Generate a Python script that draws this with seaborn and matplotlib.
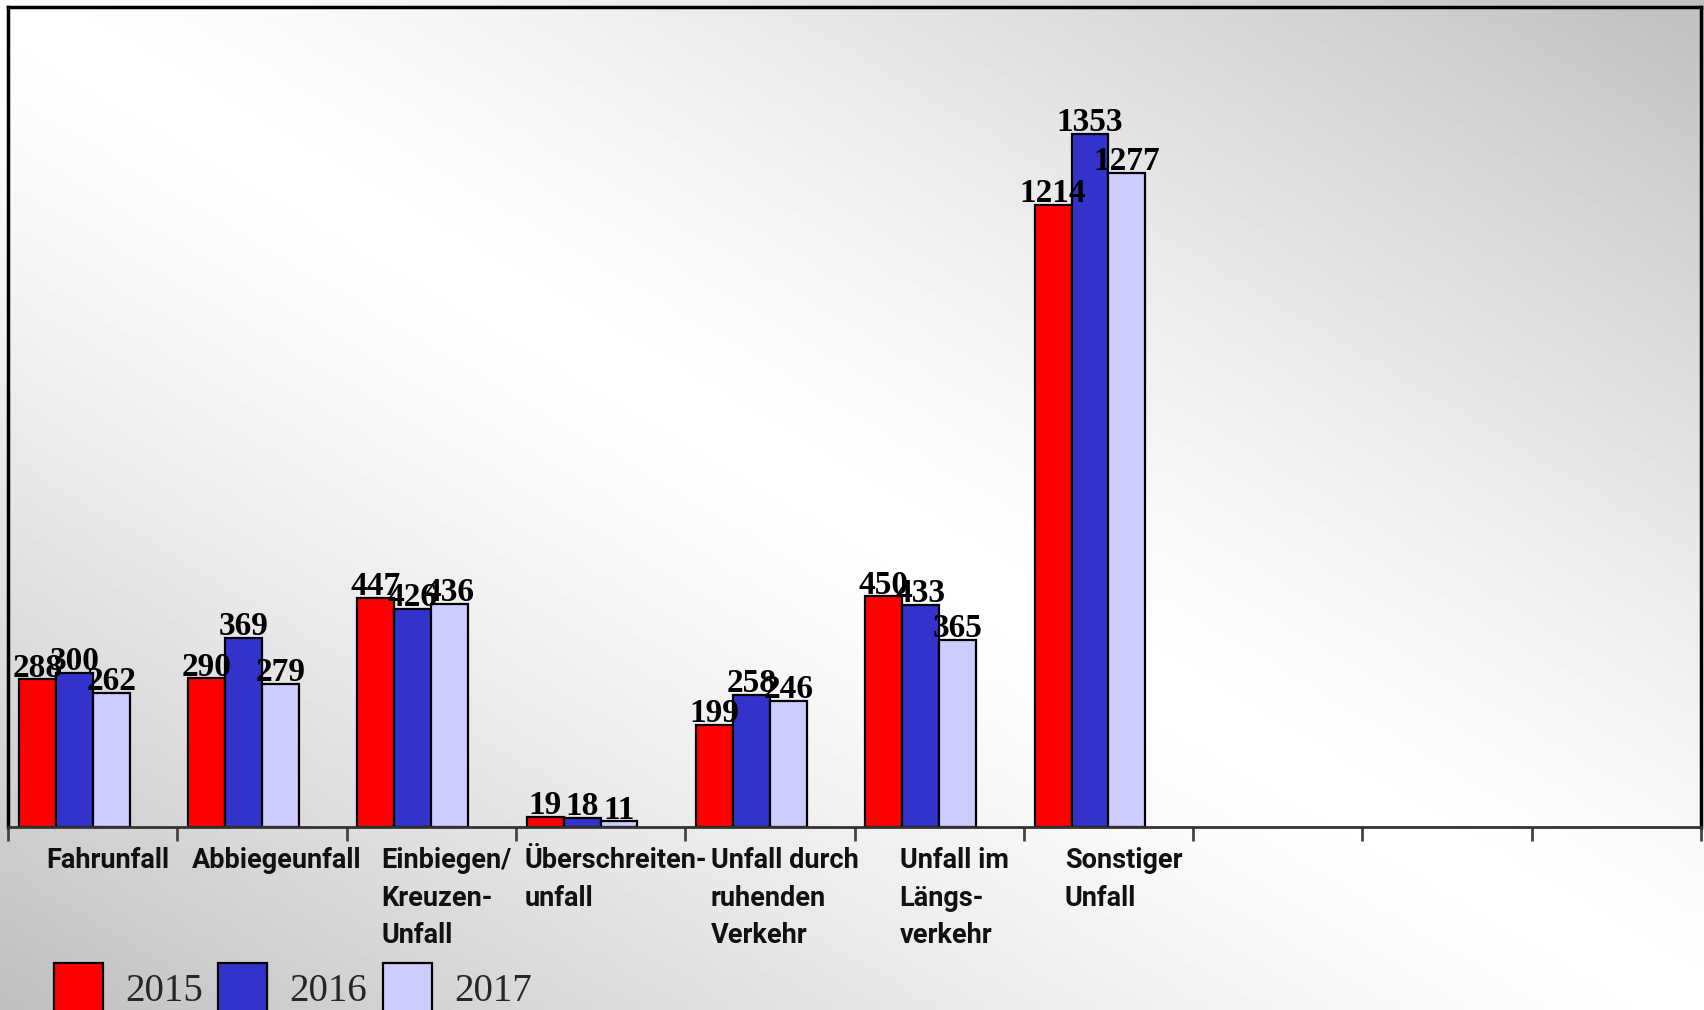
import numpy as np
import pandas as pd
import seaborn as sns
import matplotlib.pyplot as plt
import matplotlib.patches as mpatches
import matplotlib.transforms as mtransforms

# data
categories = ['Fahrunfall', 'Abbiegeunfall', 'Einbiegen/\nKreuzen-\nUnfall',
              'Überschreiten-\nunfall', 'Unfall durch\nruhenden\nVerkehr',
              'Unfall im\nLängs-\nverkehr', 'Sonstiger\nUnfall']
empty_slots = ['leer1', 'leer2', 'leer3']
years = ['2015', '2016', '2017']
v2015 = [288, 290, 447, 19, 199, 450, 1214]
v2016 = [300, 369, 426, 18, 258, 433, 1353]
v2017 = [262, 279, 436, 11, 246, 365, 1277]

colors = {'2015': '#FF0000', '2016': '#3333CC', '2017': '#CCCCFF', '2018': '#FFFFFF'}

df = pd.DataFrame({
    'Kategorie': categories * 3,
    'Jahr': ['2015'] * 7 + ['2016'] * 7 + ['2017'] * 7,
    'Anzahl': v2015 + v2016 + v2017,
})

sns.set_theme(style='white')

fig = plt.figure(figsize=(17.04, 10.10), dpi=100)

# diagonal grey-white-grey background
bg = fig.add_axes([0, 0, 1, 1], zorder=-10)
xx, yy = np.meshgrid(np.linspace(0, 1, 400), np.linspace(0, 1, 300))
d = np.abs(xx - yy)
grad = 1 - 0.25 * d ** 1.3
bg.imshow(grad, cmap='gray', vmin=0, vmax=1, aspect='auto', extent=[0, 1, 0, 1], origin='upper')
bg.axis('off')

ax = fig.add_axes([8 / 1704, 1 - 827 / 1010, 1693 / 1704, 820 / 1010])
ax.set_facecolor('none')

sns.barplot(data=df, x='Kategorie', y='Anzahl', hue='Jahr',
            order=categories + empty_slots, hue_order=years + ['2018'],
            palette=colors, width=0.872, gap=0, errorbar=None,
            edgecolor='black', linewidth=1.6, saturation=1, legend=False, ax=ax)

for c in ax.containers:
    ax.bar_label(c, fmt='%d', padding=-3, fontsize=24, fontweight='bold',
                 family='Liberation Serif', color='black')

ax.set_xlim(-0.5, 9.5)
ax.set_ylim(0, 1600)
ax.set_yticks([])
ax.set_xticks(np.arange(-0.5, 10, 1))
ax.set_xticklabels([])
ax.tick_params(axis='x', bottom=True, length=10, width=2, color='#444444', direction='out')
ax.set_xlabel('')
ax.set_ylabel('')
for s in ['left', 'top', 'right']:
    ax.spines[s].set_color('black')
    ax.spines[s].set_linewidth(2.5)
ax.spines['bottom'].set_color('#333333')
ax.spines['bottom'].set_linewidth(2)

lab_tr = mtransforms.offset_copy(ax.get_xaxis_transform(), fig=fig, x=15, y=-20, units='dots')
for i, lab in enumerate(categories):
    ax.text(i, 0, lab, transform=lab_tr, ha='center', va='top', multialignment='left',
            fontsize=19.5, fontweight='bold', family='Roboto',
            color='#111111', linespacing=1.5)

handles = [mpatches.Patch(facecolor=colors[y], edgecolor='black', linewidth=1.6, label=y) for y in years]
fig.legend(handles=handles, loc='upper left', bbox_to_anchor=(54 / 1704, 1 - 963 / 1010),
           ncol=3, frameon=False, borderpad=0, borderaxespad=0,
           handlelength=1.26, handleheight=1.6, handletextpad=0.57, columnspacing=0.4,
           prop={'family': 'Liberation Serif', 'size': 28})

fig.savefig('out.png', dpi=100)
